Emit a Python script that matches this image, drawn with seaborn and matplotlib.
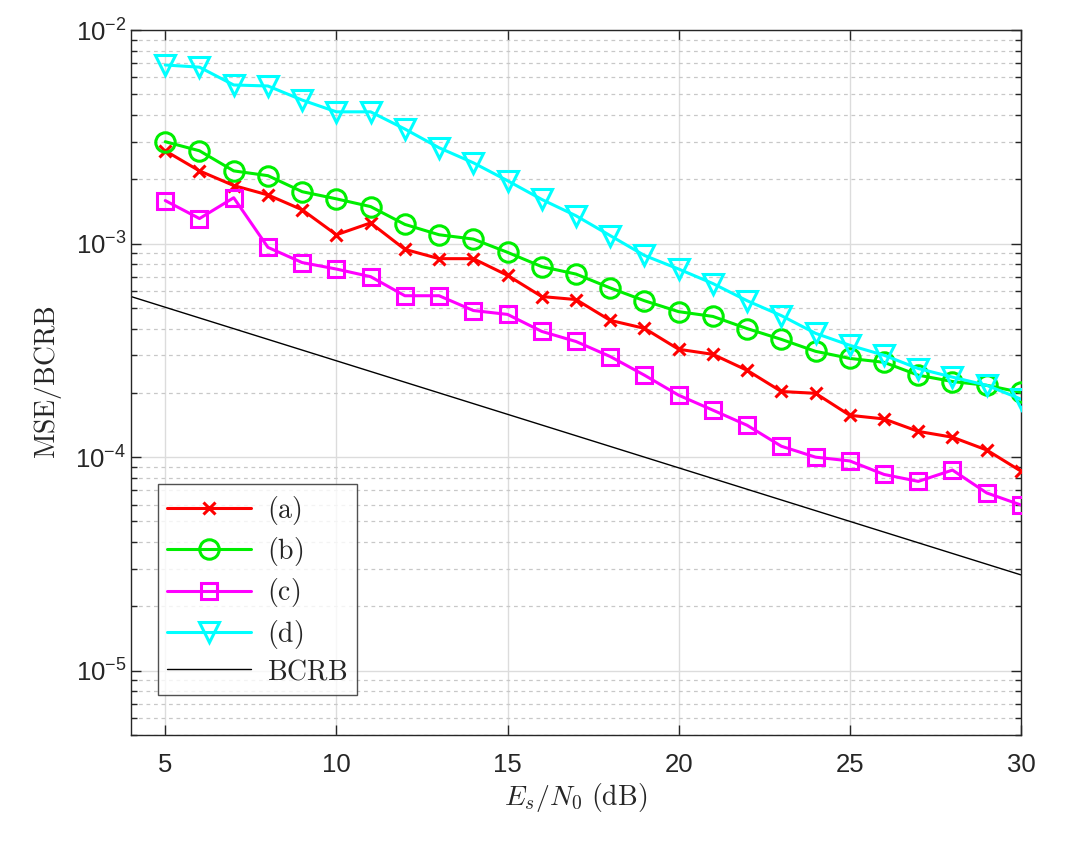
import numpy as np
import pandas as pd
import matplotlib
matplotlib.use("Agg")
import matplotlib.pyplot as plt
import seaborn as sns
from matplotlib.ticker import LogLocator, FixedLocator

snr = list(range(5, 31))
mse_a = [2.72e-3, 2.19e-3, 1.87e-3, 1.69e-3, 1.44e-3, 1.10e-3, 1.25e-3, 9.4e-4, 8.5e-4, 8.5e-4,
         7.1e-4, 5.65e-4, 5.47e-4, 4.37e-4, 4.01e-4, 3.2e-4, 3.03e-4, 2.55e-4, 2.03e-4, 1.99e-4,
         1.57e-4, 1.51e-4, 1.32e-4, 1.24e-4, 1.08e-4, 8.6e-5]
mse_b = [3.0e-3, 2.72e-3, 2.19e-3, 2.08e-3, 1.75e-3, 1.62e-3, 1.49e-3, 1.23e-3, 1.10e-3, 1.05e-3,
         9.1e-4, 7.8e-4, 7.2e-4, 6.2e-4, 5.4e-4, 4.8e-4, 4.56e-4, 4.0e-4, 3.56e-4, 3.13e-4,
         2.9e-4, 2.78e-4, 2.42e-4, 2.26e-4, 2.17e-4, 2.01e-4]
mse_c = [1.59e-3, 1.31e-3, 1.64e-3, 9.6e-4, 8.15e-4, 7.6e-4, 7.0e-4, 5.7e-4, 5.7e-4, 4.86e-4,
         4.66e-4, 3.88e-4, 3.48e-4, 2.96e-4, 2.42e-4, 1.95e-4, 1.66e-4, 1.41e-4, 1.125e-4, 1.0e-4,
         9.6e-5, 8.3e-5, 7.7e-5, 8.7e-5, 6.8e-5, 5.97e-5]
mse_d = [6.86e-3, 6.7e-3, 5.53e-3, 5.47e-3, 4.7e-3, 4.14e-3, 4.14e-3, 3.44e-3, 2.81e-3, 2.39e-3,
         1.97e-3, 1.61e-3, 1.35e-3, 1.09e-3, 8.8e-4, 7.6e-4, 6.5e-4, 5.4e-4, 4.6e-4, 3.8e-4,
         3.34e-4, 3.0e-4, 2.6e-4, 2.37e-4, 2.17e-4, 1.87e-4]
bcrb_x = [4, 30]
bcrb_y = [5.65e-4, 2.81e-5]

labels = ["(a)", "(b)", "(c)", "(d)"]
series = [mse_a, mse_b, mse_c, mse_d]
colors = ["#ff0000", "#00ee00", "#ff00ff", "#00ffff"]
markers = ["x", "o", "s", "v"]
msizes = [9, 14, 11, 15]

sns.set_theme(style="ticks")
plt.rcParams["font.family"] = ["Liberation Sans", "DejaVu Sans"]
plt.rcParams["mathtext.fontset"] = "cm"

fig = plt.figure(figsize=(10.74, 8.46), dpi=100)
ax = fig.add_axes([0.122, 0.1312, 0.8286, 0.8333])

for lab, ys, c, m, ms in zip(labels, series, colors, markers, msizes):
    df = pd.DataFrame({"x": snr, "y": ys})
    sns.lineplot(data=df, x="x", y="y", ax=ax, color=c, marker=m, markersize=ms,
                 markerfacecolor="none", markeredgecolor=c, markeredgewidth=2.2,
                 linewidth=2.2, label=r"$\mathrm{" + lab + "}$", zorder=3)

dfb = pd.DataFrame({"x": bcrb_x, "y": bcrb_y})
sns.lineplot(data=dfb, x="x", y="y", ax=ax, color="black", linewidth=1.0,
             label=r"$\mathrm{BCRB}$", zorder=2)

ax.set_yscale("log")
ax.set_xlim(4, 30)
ax.set_ylim(5e-6, 1e-2)
ax.xaxis.set_major_locator(FixedLocator([5, 10, 15, 20, 25, 30]))
ax.yaxis.set_major_locator(LogLocator(base=10, numticks=10))
ax.yaxis.set_minor_locator(LogLocator(base=10, subs=np.arange(2, 10), numticks=20))

ax.grid(True, which="major", axis="both", color="#dcdcdc", linestyle="-", linewidth=1.0, zorder=0)
ax.grid(True, which="minor", axis="y", color="#c8c8c8", linestyle=(0, (3, 3)), linewidth=0.9, zorder=0)
ax.set_axisbelow(True)

ax.tick_params(which="both", direction="in", top=True, right=True, colors="#262626",
               labelsize=18.5, width=1.0)
ax.tick_params(which="major", length=7)
ax.tick_params(which="minor", length=4)
ax.tick_params(axis="x", pad=13)
for s in ax.spines.values():
    s.set_color("#262626")
    s.set_linewidth(1.0)

ax.set_xlabel(r"$E_s/N_0\ \mathrm{(dB)}$", fontsize=20, color="#262626", labelpad=3)
ax.set_ylabel(r"$\mathrm{MSE/BCRB}$", fontsize=20, color="#262626", labelpad=8)

leg = ax.legend(loc="lower left", bbox_to_anchor=(0.030, 0.057), borderaxespad=0,
                fontsize=20, frameon=True, fancybox=False, edgecolor="#262626",
                handlelength=3.0, handletextpad=0.6, labelspacing=0.3, borderpad=0.35)
leg.get_frame().set_linewidth(1.0)

fig.savefig("out.png", dpi=100)
